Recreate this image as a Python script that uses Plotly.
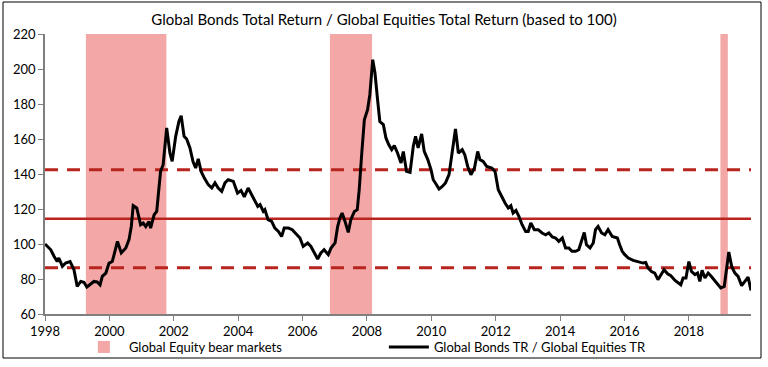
import plotly.graph_objects as go

# ---- data ----
years = [1998.00, 1998.18, 1998.28, 1998.38, 1998.43, 1998.54, 1998.64, 1998.78, 1998.90,
         1999.00, 1999.11, 1999.21, 1999.30, 1999.42, 1999.52, 1999.62, 1999.71, 1999.78, 1999.89,
         1999.99, 2000.09, 2000.16, 2000.25, 2000.37, 2000.51, 2000.61, 2000.68, 2000.74, 2000.85,
         2000.97, 2001.05, 2001.13, 2001.23, 2001.28, 2001.39, 2001.47, 2001.54, 2001.59, 2001.67,
         2001.78, 2001.88, 2001.95, 2002.06, 2002.16, 2002.23, 2002.32, 2002.40, 2002.50, 2002.60,
         2002.68, 2002.76, 2002.85, 2002.95, 2003.07, 2003.18, 2003.28, 2003.38, 2003.49, 2003.59,
         2003.69, 2003.85, 2003.98, 2004.09, 2004.19, 2004.31, 2004.42, 2004.52, 2004.61, 2004.68,
         2004.78, 2004.83, 2004.93, 2005.04, 2005.14, 2005.25, 2005.35, 2005.43, 2005.56, 2005.68,
         2005.82, 2005.92, 2006.02, 2006.16, 2006.26, 2006.36, 2006.47, 2006.57, 2006.67, 2006.80,
         2006.88, 2007.01, 2007.09, 2007.16, 2007.23, 2007.32, 2007.42, 2007.50, 2007.61, 2007.70,
         2007.76, 2007.84, 2007.92, 2008.02, 2008.09, 2008.18, 2008.25, 2008.33, 2008.40, 2008.51,
         2008.59, 2008.68, 2008.77, 2008.85, 2008.95, 2009.06, 2009.13, 2009.23, 2009.34, 2009.44,
         2009.51, 2009.59, 2009.70, 2009.78, 2009.89, 2009.99, 2010.06, 2010.16, 2010.24, 2010.34,
         2010.44, 2010.55, 2010.65, 2010.75, 2010.84, 2010.96, 2011.04, 2011.13, 2011.23, 2011.34,
         2011.44, 2011.51, 2011.61, 2011.72, 2011.88, 2011.98, 2012.08, 2012.18, 2012.29, 2012.39,
         2012.47, 2012.54, 2012.63, 2012.72, 2012.82, 2012.93, 2013.01, 2013.09, 2013.20, 2013.32,
         2013.44, 2013.55, 2013.65, 2013.76, 2013.86, 2013.96, 2014.07, 2014.17, 2014.27, 2014.37,
         2014.48, 2014.58, 2014.67, 2014.75, 2014.82, 2014.93, 2015.03, 2015.10, 2015.18, 2015.29,
         2015.39, 2015.49, 2015.62, 2015.78, 2015.85, 2015.93, 2016.01, 2016.12, 2016.27, 2016.42,
         2016.58, 2016.66, 2016.73, 2016.84, 2016.94, 2017.04, 2017.15, 2017.23, 2017.34, 2017.44,
         2017.57, 2017.67, 2017.75, 2017.82, 2017.91, 2018.00, 2018.08, 2018.19, 2018.27, 2018.34,
         2018.41, 2018.50, 2018.60, 2018.68, 2018.79, 2018.89, 2018.99, 2019.10, 2019.17, 2019.24,
         2019.33, 2019.43, 2019.53, 2019.64, 2019.74, 2019.84, 2019.93]
ratio = [100.0, 96.7, 93.0, 90.0, 92.0, 87.2, 89.1, 90.0, 85.3,
         75.8, 78.6, 78.1, 75.4, 77.3, 78.6, 78.3, 76.7, 81.5, 83.4,
         89.1, 90.0, 94.9, 101.5, 94.9, 97.7, 102.5, 110.0, 121.9, 120.6,
         111.0, 112.0, 110.0, 112.9, 109.1, 116.7, 118.6, 131.0, 141.5, 145.3,
         166.3, 152.0, 147.2, 161.5, 170.0, 173.3, 161.5, 160.0, 155.0, 147.0,
         143.4, 148.6, 141.5, 137.7, 133.9, 132.0, 134.9, 132.0, 130.1, 134.9,
         136.7, 135.8, 129.1, 130.6, 126.9, 132.0, 128.2, 125.3, 121.5, 122.5,
         118.6, 119.6, 113.9, 112.9, 109.1, 107.2, 104.3, 109.1, 109.1, 108.2,
         105.3, 103.4, 98.6, 100.6, 98.6, 94.9, 91.4, 94.9, 96.7, 93.9,
         97.5, 100.6, 110.0, 114.9, 117.7, 112.9, 106.6, 113.9, 118.6, 119.6,
         131.0, 152.0, 171.0, 176.7, 185.3, 205.3, 197.7, 182.5, 170.0, 168.2,
         160.6, 156.7, 153.9, 156.2, 152.0, 146.3, 152.9, 141.5, 140.9, 155.8,
         161.5, 154.9, 162.9, 152.9, 148.2, 142.5, 136.7, 133.9, 131.4, 132.9,
         134.9, 139.6, 152.0, 165.7, 152.0, 153.9, 151.0, 144.3, 139.6, 143.4,
         152.9, 148.2, 147.2, 144.3, 143.4, 141.5, 131.0, 127.2, 123.4, 120.6,
         121.9, 117.7, 119.2, 115.8, 111.0, 107.2, 107.2, 112.0, 108.2, 108.2,
         106.3, 105.3, 106.3, 104.0, 103.4, 101.5, 103.4, 97.7, 97.7, 95.8,
         95.8, 96.7, 102.5, 106.6, 99.6, 97.7, 100.6, 108.2, 110.0, 106.3,
         105.3, 108.2, 104.3, 103.4, 99.6, 95.8, 93.9, 92.0, 90.6, 89.7,
         89.1, 89.4, 86.3, 84.3, 83.4, 79.6, 83.4, 85.3, 83.0, 81.9,
         79.2, 77.7, 76.7, 80.6, 80.6, 90.0, 84.3, 82.5, 83.4, 78.6,
         85.0, 80.6, 83.4, 81.9, 79.6, 77.1, 74.9, 75.8, 85.3, 95.4,
         87.2, 83.4, 81.5, 76.2, 78.6, 81.1, 73.5]

bear_start = [1999.27, 2006.85, 2018.98]
bear_end = [2001.77, 2008.16, 2019.21]

mean_level = 114.5
upper_band = 142.5
lower_band = 86.5

x_ticks = [1998, 2000, 2002, 2004, 2006, 2008, 2010, 2012, 2014, 2016, 2018]
x_ticktext = [str(t) for t in x_ticks]
y_ticks = [60, 80, 100, 120, 140, 160, 180, 200, 220]

# ---- styling ----
FONT = "Lato"
PINK = "#F3A7A6"
RED = "#B8251E"
W, H = 768, 367
ML, MR, MT, MB = 45, 17, 34, 53
PAPER_H = H - MT - MB
LEGEND_PX = 347               # pixel row of legend centre


def py(px):
    return (H - MB - px) / PAPER_H


def pxx(px):
    return (px - ML) / (W - ML - MR)


fig = go.Figure()

shapes = []
for i, (s, e) in enumerate(zip(bear_start, bear_end)):
    shapes.append(dict(type="rect", xref="x", yref="y domain", x0=s, x1=e, y0=0, y1=1,
                       fillcolor=PINK, line=dict(width=0), layer="below",
                       showlegend=(i == 0), name="Global Equity bear markets",
                       legendgroup="bear", legendrank=1))
for lvl, dash in [(upper_band, "13px,9px"), (lower_band, "13px,9px"), (mean_level, "solid")]:
    shapes.append(dict(type="line", xref="x domain", yref="y", x0=0, x1=1, y0=lvl, y1=lvl,
                       line=dict(color=RED, width=3 if dash != "solid" else 2.5, dash=dash),
                       layer="below"))
# outer frame
shapes.append(dict(type="rect", xref="paper", yref="paper", x0=pxx(3), x1=pxx(761),
                   y0=py(358), y1=py(2), line=dict(color="black", width=1), layer="above"))

fig.add_trace(go.Scatter(x=years, y=ratio, mode="lines",
                         line=dict(color="black", width=3), legendrank=2,
                         name="Global Bonds TR / Global Equities TR"))

fig.update_layout(
    width=W, height=H,
    margin=dict(l=ML, r=MR, t=MT, b=MB, pad=0, autoexpand=False),
    paper_bgcolor="white", plot_bgcolor="white",
    font=dict(family=FONT, size=13, color="black"),
    title=dict(text="Global Bonds Total Return / Global Equities Total Return (based to 100)",
               x=0.5, xanchor="center", y=0.945, yanchor="middle", yref="container",
               font=dict(family=FONT, size=15, color="black")),
    shapes=shapes,
    showlegend=True,
    legend=dict(orientation="h", x=0.48, xanchor="center", y=py(LEGEND_PX), yanchor="middle",
                font=dict(family=FONT, size=13), itemwidth=40, bgcolor="rgba(0,0,0,0)",
                entrywidth=250, entrywidthmode="pixels", tracegroupgap=0),
    xaxis=dict(range=[1998, 2019.93], tickvals=x_ticks, ticktext=x_ticktext, automargin=False,
               showgrid=False, zeroline=False, showline=True, linecolor="#7F7F7F", linewidth=1.5,
               ticks="outside", ticklen=5, tickcolor="#7F7F7F", tickfont=dict(size=13)),
    yaxis=dict(range=[60, 220], tickvals=y_ticks, showgrid=False, zeroline=False,
               automargin=False,
               showline=True, linecolor="#7F7F7F", linewidth=1.5,
               ticks="outside", ticklen=5, tickcolor="#7F7F7F", tickfont=dict(size=13)),
)

fig.write_html("out.html")
